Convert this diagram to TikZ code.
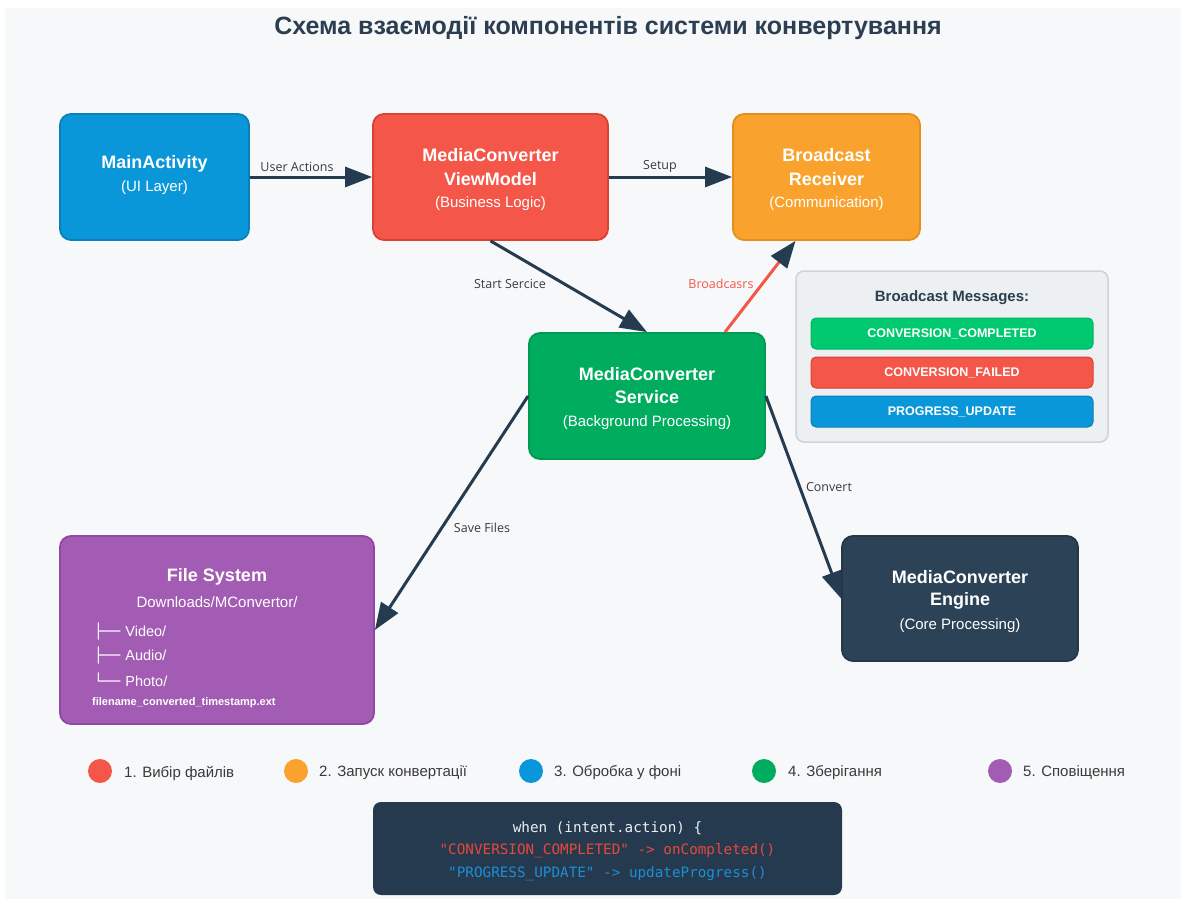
\documentclass[tikz,border=0pt]{standalone}
\usepackage{fontspec}
\setmainfont{Liberation Sans}
\newfontfamily\labelfont{Open Sans}
\newfontfamily\codefont{DejaVu Sans Mono}
\newfontfamily\treefont{DejaVu Sans}
\usetikzlibrary{arrows.meta,calc}

\definecolor{pagebg}{HTML}{F7F8FA}
\definecolor{ink}{HTML}{2C3E50}
\definecolor{wire}{HTML}{253B50}
\definecolor{lbl}{HTML}{3A3A3A}
\definecolor{cblue}{HTML}{0A97D9}
\definecolor{cblueD}{HTML}{0A7FB8}
\definecolor{cred}{HTML}{F4574A}
\definecolor{credD}{HTML}{D8432F}
\definecolor{corange}{HTML}{F9A32E}
\definecolor{corangeD}{HTML}{E38F1E}
\definecolor{cgreen}{HTML}{00AD5F}
\definecolor{cgreenD}{HTML}{009A52}
\definecolor{cpurple}{HTML}{A35CB4}
\definecolor{cpurpleD}{HTML}{9147A6}
\definecolor{cnavy}{HTML}{2C4257}
\definecolor{cnavyD}{HTML}{243648}
\definecolor{panelbg}{HTML}{EDF0F2}
\definecolor{panelD}{HTML}{CFD3D7}
\definecolor{barGreen}{HTML}{00C96F}
\definecolor{barGreenD}{HTML}{00B562}
\definecolor{codebg}{HTML}{253A4F}
\definecolor{codeRed}{HTML}{E8483B}
\definecolor{codeBlue}{HTML}{1B8FD6}
\definecolor{codeText}{HTML}{ECEFF1}

\tikzset{
  compbox/.style={rounded corners=11pt, line width=1.8pt, inner sep=0pt},
  boxtitle/.style={text=white, inner sep=0pt, font=\fontsize{18}{20}\selectfont\bfseries},
  boxsub/.style={text=white, inner sep=0pt, font=\fontsize{15}{18}\selectfont},
  conn/.style={draw=wire, line width=3pt, -{Triangle[length=27pt,width=20pt]}},
  wirelabel/.style={text=lbl, inner sep=0pt, font=\labelfont\fontsize{12.5}{14}\selectfont},
  msgbar/.style={rounded corners=5pt, line width=1pt, minimum width=282pt, minimum height=31pt,
    inner sep=0pt, text=white, font=\fontsize{12.5}{14}\selectfont\bfseries},
  legenddot/.style={circle, minimum size=24pt, inner sep=0pt},
  legendtext/.style={anchor=west, inner sep=0pt, text=lbl, font=\fontsize{15}{18}\selectfont},
  codeline/.style={inner sep=0pt, font=\codefont\fontsize{14.3}{16}\selectfont},
  treeline/.style={anchor=west, inner sep=0pt, text=white, font=\fontsize{14.5}{17}\selectfont},
}

\begin{document}
\begin{tikzpicture}[x=1pt,y=-1pt]
  % canvas
  \useasboundingbox (0,0) rectangle (1181,899);
  \fill[white] (0,0) rectangle (1181,899);
  \fill[pagebg] (5,8) rectangle (1181,899);

  % heading
  \node[text=ink, inner sep=0pt, font=\fontsize{25}{28}\selectfont\bfseries] (title) at (608,28)
    {Схема взаємодії компонентів системи конвертування};

  % main components
  \node[compbox, fill=cblue, draw=cblueD, minimum width=189pt, minimum height=126pt] (main) at (154.5,177) {};
  \node[boxtitle] (main-t) at (154.5,164) {MainActivity};
  \node[boxsub] (main-s) at (154.5,188) {(UI Layer)};

  \node[compbox, fill=cred, draw=credD, minimum width=235pt, minimum height=126pt] (vm) at (490.5,177) {};
  \node[boxtitle] (vm-t1) at (490.5,155) {MediaConverter};
  \node[boxtitle] (vm-t2) at (490.5,179) {ViewModel};
  \node[boxsub] (vm-s) at (490.5,204) {(Business Logic)};

  \node[compbox, fill=corange, draw=corangeD, minimum width=187pt, minimum height=126pt] (rcv) at (826.5,177) {};
  \node[boxtitle] (rcv-t1) at (826.5,155) {Broadcast};
  \node[boxtitle] (rcv-t2) at (826.5,179) {Receiver};
  \node[boxsub] (rcv-s) at (826.5,204) {(Communication)};

  \node[compbox, fill=cgreen, draw=cgreenD, minimum width=236pt, minimum height=126pt] (svc) at (647,396) {};
  \node[boxtitle] (svc-t1) at (647,374) {MediaConverter};
  \node[boxtitle] (svc-t2) at (647,397) {Service};
  \node[boxsub] (svc-s) at (647,423) {(Background Processing)};

  \node[compbox, fill=cpurple, draw=cpurpleD, minimum width=314pt, minimum height=188pt] (fs) at (217,630) {};
  \node[boxtitle] (fs-t) at (217,577) {File System};
  \node[boxsub] (fs-s) at (217,602) {Downloads/MConvertor/};
  \node[treeline] (fs-v) at (94,632) {{\treefont ├──}\hspace{5pt}Video/};
  \node[treeline] (fs-a) at (94,656) {{\treefont ├──}\hspace{5pt}Audio/};
  \node[treeline] (fs-p) at (94,680) {{\treefont └──}\hspace{5pt}Photo/};
  \node[anchor=west, inner sep=0pt, text=white, font=\fontsize{11}{13}\selectfont\bfseries] (fs-n) at (92,703)
    {filename\_converted\_timestamp.ext};

  \node[compbox, fill=cnavy, draw=cnavyD, minimum width=236pt, minimum height=125pt] (eng) at (960,598.5) {};
  \node[boxtitle] (eng-t1) at (960,577) {MediaConverter};
  \node[boxtitle] (eng-t2) at (960,601) {Engine};
  \node[boxsub] (eng-s) at (960,626) {(Core Processing)};

  % broadcast message panel
  \node[rounded corners=8pt, line width=1.5pt, fill=panelbg, draw=panelD,
        minimum width=312pt, minimum height=171pt, inner sep=0pt] (msgs) at (952,356.5) {};
  \node[text=ink, inner sep=0pt, font=\fontsize{15}{18}\selectfont\bfseries] (msgs-t) at (952,298) {Broadcast Messages:};
  \node[msgbar, fill=barGreen, draw=barGreenD] (m1) at (952,333.5) {CONVERSION\_COMPLETED};
  \node[msgbar, fill=cred, draw=credD] (m2) at (952,372.5) {CONVERSION\_FAILED};
  \node[msgbar, fill=cblue, draw=cblueD] (m3) at (952,411.5) {PROGRESS\_UPDATE};

  % connectors
  \draw[conn] (main.east) -- (vm.west);
  \draw[conn] (vm.east) -- (rcv.west);
  \draw[conn] (vm.south) -- (svc.north);
  \draw[draw=cred, line width=3pt, -{Triangle[length=27pt,width=20pt,color=wire]}]
    ($(svc.north)+(78,0)$) -- ($(rcv.south)+(-31,0)$);
  \draw[conn] (svc.west) -- (fs.east);
  \draw[conn] (svc.east) -- (eng.west);

  % connector captions
  \node[wirelabel] (l-user) at (297,167) {User Actions};
  \node[wirelabel] (l-setup) at (660,166) {Setup};
  \node[wirelabel] (l-start) at (510,284) {Start Sercice};
  \node[wirelabel, text=cred] (l-bc) at (721,284) {Broadcasrs};
  \node[wirelabel] (l-save) at (482,528) {Save Files};
  \node[wirelabel] (l-conv) at (829,487) {Convert};

  % legend
  \node[legenddot, fill=cred] (d1) at (100,771) {};
  \node[legendtext] (t1) at (124,773) {1. Вибір файлів};
  \node[legenddot, fill=corange] (d2) at (296,771) {};
  \node[legendtext] (t2) at (319,773) {2. Запуск конвертації};
  \node[legenddot, fill=cblue] (d3) at (531,771) {};
  \node[legendtext] (t3) at (554,773) {3. Обробка у фоні};
  \node[legenddot, fill=cgreen] (d4) at (764,771) {};
  \node[legendtext] (t4) at (788,773) {4. Зберігання};
  \node[legenddot, fill=cpurple] (d5) at (1000,771) {};
  \node[legendtext] (t5) at (1023,773) {5. Сповіщення};

  % receiver code sample
  \node[rounded corners=8pt, fill=codebg, minimum width=469pt, minimum height=93pt, inner sep=0pt] (code) at (607.5,848.5) {};
  \node[codeline, text=codeText] (c1) at (607.5,828) {when (intent.action) \{};
  \node[codeline, text=codeRed] (c2) at (607.5,851) {"CONVERSION\_COMPLETED" -> onCompleted()};
  \node[codeline, text=codeBlue] (c3) at (607.5,874) {"PROGRESS\_UPDATE" -> updateProgress()};
\end{tikzpicture}
\end{document}
